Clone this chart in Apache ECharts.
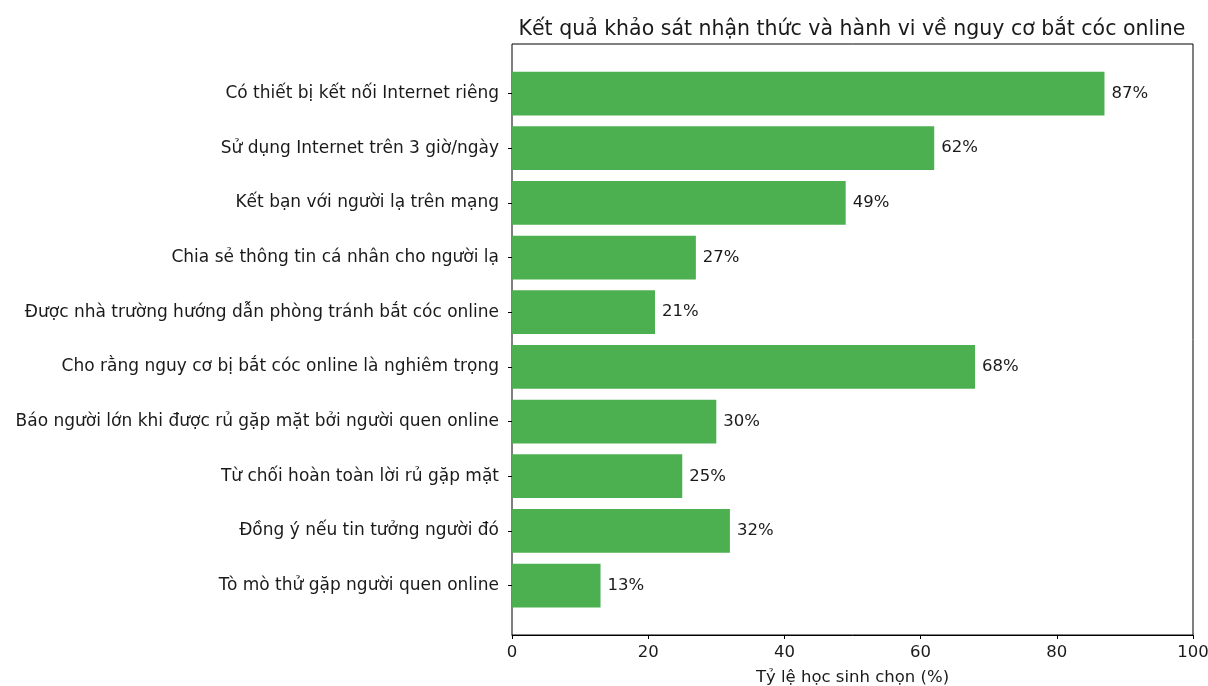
<!DOCTYPE html>
<html><head><meta charset="utf-8">
<script src="https://cdn.jsdelivr.net/npm/echarts@6/dist/echarts.min.js"></script>
<style>html,body{margin:0;padding:0;background:#fff}#c{width:1208px;height:686px}</style>
</head><body><div id="c"></div>
<script>
var categories = [
  "Có thiết bị kết nối Internet riêng",
  "Sử dụng Internet trên 3 giờ/ngày",
  "Kết bạn với người lạ trên mạng",
  "Chia sẻ thông tin cá nhân cho người lạ",
  "Được nhà trường hướng dẫn phòng tránh bắt cóc online",
  "Cho rằng nguy cơ bị bắt cóc online là nghiêm trọng",
  "Báo người lớn khi được rủ gặp mặt bởi người quen online",
  "Từ chối hoàn toàn lời rủ gặp mặt",
  "Đồng ý nếu tin tưởng người đó",
  "Tò mò thử gặp người quen online"
];
var values = [87, 62, 49, 27, 21, 68, 30, 25, 32, 13];
var xTicks = [0, 20, 40, 60, 80, 100];

var FONT = "DejaVu Sans";
var FS = 16.5;
var chart = echarts.init(document.getElementById('c'));
chart.setOption({
  animation: false,
  textStyle: {fontFamily: FONT},
  title: {
    text: "Kết quả khảo sát nhận thức và hành vi về nguy cơ bắt cóc online",
    left: 847, top: 14, textAlign: 'center',
    textStyle: {fontFamily: FONT, fontSize: 20.5, fontWeight: 'normal', color: '#1a1a1a'}
  },
  grid: [
    {left: 512, right: 15, top: 44, bottom: 51, show: true, borderColor: '#000', borderWidth: 1,
     backgroundColor: 'transparent', containLabel: false, outerBoundsMode: 'none'},
    {left: 512, right: 15, top: 66.2, height: 546.7, containLabel: false, outerBoundsMode: 'none'}
  ],
  xAxis: [
    {type: 'value', gridIndex: 0, min: xTicks[0], max: xTicks[xTicks.length-1], interval: 20,
     axisLine: {show: true, lineStyle: {color: '#000'}},
     axisTick: {show: true, length: 4, lineStyle: {color: '#000'}},
     axisLabel: {color: '#1a1a1a', fontSize: FS, margin: 9, fontFamily: FONT},
     splitLine: {show: false},
     name: "Tỷ lệ học sinh chọn (%)", nameLocation: 'middle', nameGap: 34,
     nameTextStyle: {color: '#1a1a1a', fontSize: FS, fontFamily: FONT}},
    {type: 'value', gridIndex: 1, min: 0, max: 100, show: false}
  ],
  yAxis: [
    {type: 'value', gridIndex: 0, min: 0, max: 1, show: true,
     axisLine: {show: false}, axisTick: {show: false}, axisLabel: {show: false}, splitLine: {show: false}},
    {type: 'category', gridIndex: 1, data: categories, inverse: true,
     axisLine: {show: false},
     axisTick: {show: true, alignWithLabel: true, length: 4, lineStyle: {color: '#000'}},
     axisLabel: {color: '#1a1a1a', fontSize: 17, margin: 13, fontFamily: FONT}}
  ],
  series: [{
    type: 'bar', xAxisIndex: 1, yAxisIndex: 1, data: values,
    barWidth: '80%',
    itemStyle: {color: '#4CAF50'},
    label: {show: true, position: 'right', distance: 7, formatter: '{c}%',
            color: '#1a1a1a', fontSize: FS, fontFamily: FONT}
  }]
});
</script></body></html>
